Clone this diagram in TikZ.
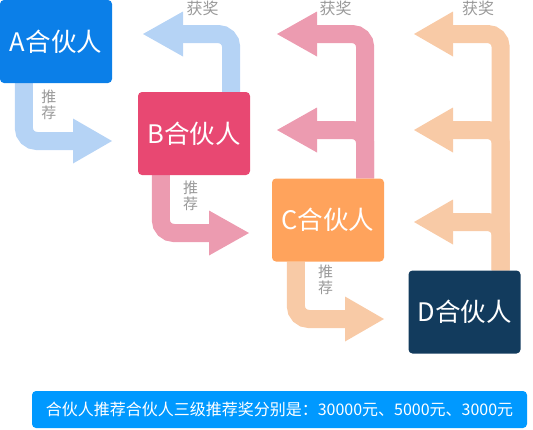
\documentclass[tikz,border=0pt]{standalone}
\usepackage{fontspec}
\setmainfont{Noto Sans CJK SC}
\definecolor{boxA}{HTML}{0B7FE8}
\definecolor{boxB}{HTML}{E84872}
\definecolor{boxC}{HTML}{FFA35C}
\definecolor{boxD}{HTML}{123B5D}
\definecolor{arrBlue}{HTML}{B5D3F5}
\definecolor{arrPink}{HTML}{EC9BB0}
\definecolor{arrPeach}{HTML}{F8CAA6}
\definecolor{bannerBlue}{HTML}{0099FF}
\definecolor{lblGray}{HTML}{999999}
\begin{document}
\begin{tikzpicture}[x=1pt,y=-1pt,
  partner/.style={rounded corners=4pt, minimum width=112pt, minimum height=83pt, inner sep=0pt, text=white, font=\fontsize{25.5}{30}\selectfont},
  band/.style={line width=18pt, rounded corners=13pt},
  lbl/.style={text=lblGray, font=\fontsize{15}{15.5}\selectfont, align=center, inner sep=0pt},
  glbl/.style={text=lblGray, font=\fontsize{16}{17}\selectfont, inner sep=0pt},
]
\useasboundingbox (0,0) rectangle (533,429);

% coordinates
\coordinate (aTip) at (112,141);
\coordinate (bTip) at (249,233);
\coordinate (cTip) at (384,319);
\coordinate (rb1) at (143,34);
\coordinate (rc1) at (277,34);
\coordinate (rc2) at (277,130);
\coordinate (rd1) at (414,34);
\coordinate (rd2) at (414,130);
\coordinate (rd3) at (414,222);

% boxes (positions only, drawn later)
\path (56,41.5) node[partner] (A) {};
\path (194,133.5) node[partner] (B) {};
\path (328,220) node[partner] (C) {};
\path (464.5,312) node[partner] (D) {};

% recommend arrows
\draw[band, arrBlue] ([xshift=24pt]A.south west) |- ([xshift=-38pt]aTip);
\fill[arrBlue] (aTip) -- ++(-39,-22.5) -- ++(0,45) -- cycle;
\draw[band, arrPink] ([xshift=23pt]B.south west) |- ([xshift=-40pt]bTip);
\fill[arrPink] (bTip) -- ++(-40,-22.5) -- ++(0,45) -- cycle;
\draw[band, arrPeach] ([xshift=24pt]C.south west) |- ([xshift=-38pt]cTip);
\fill[arrPeach] (cTip) -- ++(-39,-22.5) -- ++(0,45) -- cycle;

% reward arrows
\draw[band, arrBlue] ([xshift=-19pt]B.north east) |- ([xshift=39pt]rb1);
\fill[arrBlue] (rb1) -- ++(40,-22.5) -- ++(0,45) -- cycle;

\draw[band, arrPink] ([xshift=-19pt]C.north east) |- ([xshift=39pt]rc2);
\draw[band, arrPink] ([xshift=-19pt]C.north east) |- ([xshift=39pt]rc1);
\fill[arrPink] (rc1) -- ++(40,-22.5) -- ++(0,45) -- cycle;
\fill[arrPink] (rc2) -- ++(40,-22.5) -- ++(0,45) -- cycle;

\draw[band, arrPeach] ([xshift=-20pt]D.north east) |- ([xshift=38pt]rd3);
\draw[band, arrPeach] ([xshift=-20pt]D.north east) |- ([xshift=38pt]rd2);
\draw[band, arrPeach] ([xshift=-20pt]D.north east) |- ([xshift=38pt]rd1);
\fill[arrPeach] (rd1) -- ++(39,-22.5) -- ++(0,45) -- cycle;
\fill[arrPeach] (rd2) -- ++(39,-22.5) -- ++(0,45) -- cycle;
\fill[arrPeach] (rd3) -- ++(39,-22.5) -- ++(0,45) -- cycle;

% boxes
\node[partner, fill=boxA] (A) at (56,41.5) {A合伙人};
\node[partner, fill=boxB] (B) at (194,133.5) {B合伙人};
\node[partner, fill=boxC] (C) at (328,220) {C合伙人};
\node[partner, fill=boxD] (D) at (464.5,312) {D合伙人};

% labels
\node[lbl] (la) at (49,105) {推\\荐};
\node[lbl] (lb) at (190.5,196) {推\\荐};
\node[lbl] (lc) at (325.5,280) {推\\荐};
\node[glbl] (ga) at (202.5,8.5) {获奖};
\node[glbl] (gb) at (335.5,8.5) {获奖};
\node[glbl] (gc) at (478,8.5) {获奖};

% banner
\node[fill=bannerBlue, rounded corners=4pt, minimum width=495pt, minimum height=37pt, inner sep=0pt, text=white, font=\fontsize{16}{18}\selectfont] (banner) at (279.5,409.5) {合伙人推荐合伙人三级推荐奖分别是：30000元、5000元、3000元};
\end{tikzpicture}
\end{document}
